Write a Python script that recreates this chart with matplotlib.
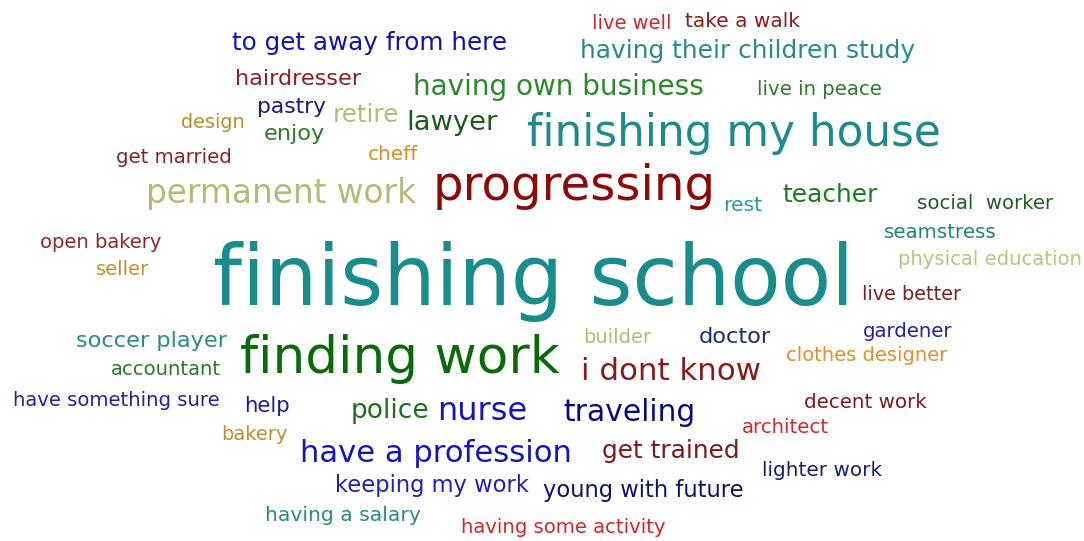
import matplotlib
matplotlib.use("Agg")
import matplotlib.pyplot as plt

# words of the cloud and their colours
words = ["live well", "take a walk", "having their children study", "to get away from here",
         "hairdresser", "having own business", "live in peace", "pastry", "retire", "lawyer",
         "design", "enjoy", "finishing my house", "get married", "cheff", "permanent work",
         "progressing", "rest", "teacher", "social  worker", "seamstress", "open bakery",
         "seller", "physical education", "finishing school", "live better", "soccer player",
         "builder", "doctor", "gardener", "finding work", "accountant", "clothes designer",
         "i dont know", "have something sure", "help", "police", "nurse", "traveling",
         "decent work", "bakery", "architect", "have a profession", "get trained",
         "lighter work", "keeping my work", "young with future", "having a salary",
         "having some activity"]

colors = ["#c8282d", "#8b1c1c", "#2a8a8a", "#1212b0",
          "#8b2222", "#2a8a2a", "#2e7a2e", "#1a1a80", "#b8b878", "#1e5a1e",
          "#b8902a", "#2a7a2a", "#1f8a8a", "#8b2222", "#e08a20", "#b8b878",
          "#8b0a0a", "#2a9a9a", "#1e7a1e", "#1e5e1e", "#1a8a6a", "#8b2a2a",
          "#c0902a", "#c0c080", "#1a8c8c", "#7a2020", "#2a8a8a",
          "#b8b878", "#1a2a80", "#2020a0", "#0a6a0a", "#2a7a2a", "#e0902a",
          "#8b1a1a", "#22229a", "#1a1aa0", "#1e6e1e", "#1515c0", "#0a0a80",
          "#7a1a1a", "#c09030", "#d02828", "#1515c0", "#7a1a1a",
          "#1a1a70", "#2020b0", "#101070", "#2a8a8a",
          "#d02828"]

# layout (pixels): left edge, right edge, baseline
left = [592, 685, 580, 232, 235, 413, 757, 257, 333, 406, 181, 264, 527, 116, 368, 146,
        433, 723, 782, 917, 884, 40, 96, 898, 213, 862, 76, 583, 699, 863, 240, 111, 786,
        581, 13, 244, 351, 437, 563, 804, 221, 742, 300, 602, 762, 335, 543, 265, 461]
right = [671, 800, 915, 506, 361, 704, 882, 326, 399, 497, 245, 325, 941, 232, 418, 416,
         716, 762, 877, 1053, 997, 162, 149, 1082, 855, 961, 226, 651, 771, 953, 559, 221, 947,
         761, 220, 290, 429, 527, 695, 927, 288, 829, 572, 739, 882, 529, 744, 420, 666]
base = [29, 27, 58, 50, 85, 95, 95, 113, 122, 130, 128, 140, 146, 163, 160, 203,
        200, 211, 202, 209, 238, 248, 275, 265, 305, 300, 347, 343, 343, 337, 373, 375, 361,
        380, 406, 412, 418, 420, 421, 408, 440, 433, 462, 458, 476, 492, 497, 521, 533]

fig = plt.figure(figsize=(10.84, 5.41), dpi=100)
ax = fig.add_axes([0, 0, 1, 1])
ax.set_xlim(0, 1084)
ax.set_ylim(541, 0)
ax.axis("off")

renderer = fig.canvas.get_renderer()
for w, c, x0, x1, y in zip(words, colors, left, right, base):
    t = ax.text(x0, y, w, color=c, fontsize=20, ha="left", va="baseline",
                family="DejaVu Sans")
    width = t.get_window_extent(renderer).width
    t.set_fontsize(20 * (x1 - x0) / width)

fig.savefig("out.png", dpi=100, facecolor="white")
